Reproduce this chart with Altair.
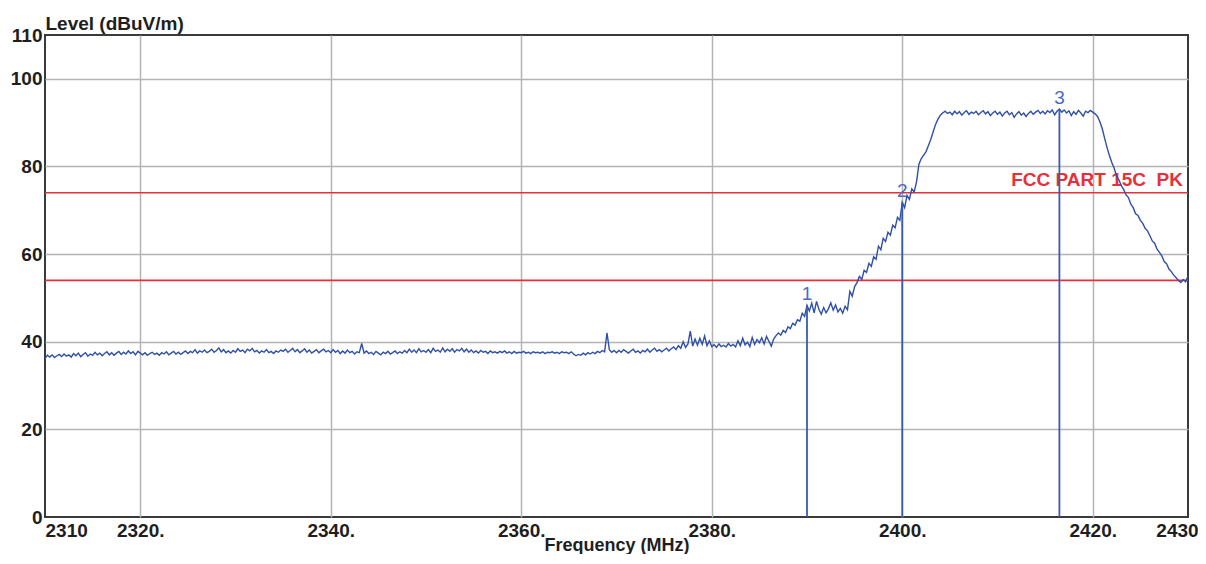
import altair as alt
import pandas as pd

# ---- sweep (0.25 MHz steps from 2310 MHz) ----
sweep_start = 2310.0
sweep_step = 0.25

level_2310_2340 = [
    36.2, 36.9, 36.5, 37.0, 36.4, 36.8, 37.1, 36.6, 37.2, 36.7,
    37.0, 36.5, 37.3, 36.8, 37.4, 36.6, 37.1, 37.5, 36.7, 37.2,
    36.9, 37.6, 37.0, 37.4, 36.8, 37.3, 37.7, 37.0, 37.5, 36.9,
    37.4, 37.8, 37.1, 37.6, 37.2, 37.9, 37.3, 37.7, 37.0, 37.8,
    37.4, 37.0, 37.5, 36.9, 37.3, 37.6, 37.1, 37.4, 36.9, 37.5,
    37.2, 37.7, 37.0, 37.4, 37.8, 37.2, 37.6, 37.1, 37.5, 37.9,
    37.3, 37.8, 37.5, 38.2, 37.4, 37.9, 37.6, 38.1, 37.5, 37.8,
    38.3, 37.6, 38.0, 38.6, 37.7, 38.2, 37.5, 37.9, 37.4, 38.0,
    37.6, 38.4, 37.8, 38.1, 37.5, 38.3, 37.9, 38.5, 37.7, 38.0,
    37.4, 37.9, 37.6, 38.2, 37.5, 37.8, 37.3, 37.9, 37.6, 38.1,
    37.8, 38.3, 37.6, 38.0, 38.5, 37.7, 38.2, 37.5, 37.9, 38.4,
    37.6, 38.1, 37.4, 37.8, 38.2, 37.5, 37.9, 38.3, 37.7, 38.0,
]
level_2340_2370 = [
    37.5, 38.2, 37.6, 38.0, 37.3, 37.9, 37.4, 38.1, 37.5, 37.8,
    37.2, 37.7, 37.5, 39.6, 37.4, 37.9, 37.3, 37.6, 37.1, 37.8,
    37.4, 37.0, 37.6, 37.3, 37.8, 37.2, 37.5, 37.9, 37.3, 37.7,
    37.4, 38.0, 37.5, 38.3, 37.6, 38.1, 37.5, 38.4, 37.7, 38.0,
    37.6, 38.2, 37.5, 38.5, 37.8, 38.1, 37.6, 38.6, 37.7, 38.3,
    37.8, 38.4, 37.6, 38.2, 37.9, 38.5, 37.7, 38.3, 37.6, 38.1,
    37.5, 37.9, 37.4, 38.0, 37.6, 37.8, 37.3, 37.9, 37.5, 37.7,
    37.4, 37.8, 37.5, 37.9, 37.4, 37.7, 37.3, 37.8, 37.4, 37.6,
    37.5, 37.8, 37.4, 37.6, 37.3, 37.7, 37.5, 37.6, 37.4, 37.7,
    37.3, 37.6, 37.5, 37.7, 37.4, 37.6, 37.3, 37.7, 37.5, 37.6,
    37.3, 37.7, 37.2, 36.8, 37.1, 36.9, 37.4, 37.0, 37.5, 37.2,
    37.6, 37.3, 37.8, 37.5, 38.0, 37.7, 42.0, 38.2, 37.6, 38.0,
]
level_2370_2390 = [
    37.5, 38.0, 37.6, 38.2, 37.8, 37.4, 37.9, 38.3, 37.6, 37.9,
    37.4, 38.0, 37.7, 38.3, 37.6, 38.1, 38.5, 37.8, 38.2, 37.7,
    38.1, 38.5, 37.9, 38.4, 38.8, 38.2, 39.1, 38.5, 40.0, 38.7,
    39.5, 42.4, 39.0, 40.6, 39.2, 40.8, 39.4, 41.3, 39.1, 40.2,
    38.9, 39.3, 38.7, 39.5, 38.9, 39.2, 38.8, 39.6, 39.0, 39.4,
    38.8, 40.2, 39.1, 40.8, 39.3, 39.9, 38.9, 41.0, 39.4, 40.5,
    39.8, 40.9, 39.5, 41.2, 40.1, 39.0, 40.6, 41.4, 42.0, 41.5,
    42.6, 42.1, 43.4, 43.0, 44.2, 43.8, 45.0, 44.7, 46.5, 45.8,
]
level_2390_2410 = [
    48.3, 47.0, 48.8, 46.6, 49.2, 47.4, 46.3, 47.8, 46.6, 47.5,
    48.9, 47.2, 48.4, 46.8, 47.6, 46.5, 48.1, 47.3, 51.5, 50.4,
    52.6, 53.5, 54.9, 54.2, 56.3, 55.8, 57.9, 57.2, 59.4, 58.8,
    61.8, 61.0, 63.6, 62.9, 65.0, 64.3, 66.6, 66.0, 68.4, 67.7,
    71.8, 70.6, 73.4, 72.5, 74.9, 74.2, 76.5, 80.5, 81.8, 82.6,
    83.4, 84.8, 86.2, 87.9, 89.6, 90.8, 91.7, 92.2, 92.6, 92.1,
    92.4, 91.8, 92.6, 92.0, 92.5, 91.7, 92.3, 92.7, 91.9, 92.4,
    92.1, 92.6, 91.8, 92.3, 92.7, 92.0, 92.5, 91.6, 92.2, 92.6,
]
level_2410_2430 = [
    91.9, 92.4, 91.5, 92.2, 92.6, 91.8, 92.3, 91.2, 92.0, 92.5,
    91.7, 92.2, 91.4, 92.1, 92.6, 91.9, 92.4, 92.8, 92.1, 92.6,
    92.0, 92.7, 92.3, 92.9, 91.8, 92.6, 93.1, 92.4, 92.9, 92.2,
    92.7, 91.6, 92.5, 91.9, 92.8, 92.2, 91.5, 92.6, 92.3, 92.8,
    92.4, 92.0, 91.4, 90.2, 88.6, 86.4, 84.3, 82.5, 80.9, 79.6,
    77.8, 76.9, 75.6, 74.7, 73.5, 72.9, 71.4, 70.6, 69.2, 68.8,
    67.7, 67.0, 65.9, 65.3, 64.2, 63.0, 62.5, 61.1, 60.4, 59.6,
    58.3, 57.8, 56.6, 56.0, 55.2, 54.6, 54.0, 53.5, 54.2, 53.7,
    55.0,
]

levels = (level_2310_2340 + level_2340_2370 + level_2370_2390
          + level_2390_2410 + level_2410_2430)
freqs = [sweep_start + sweep_step * i for i in range(len(levels))]

limit_levels = [74, 54]
limit_label = ["FCC PART 15C\u00a0 PK"]
limit_label_freq = [2430]
limit_label_level = [74]

marker_freqs = [2390, 2400, 2416.5]
marker_levels = [48.3, 71.8, 93.1]
marker_names = ["1", "2", "3"]

x_ticks = [2310, 2320, 2340, 2360, 2380, 2400, 2420, 2430]
y_ticks = [0, 20, 40, 60, 80, 100, 110]

trace_df = pd.DataFrame({"freq": freqs, "level": levels})
limit_df = pd.DataFrame({"level": limit_levels})
limit_text_df = pd.DataFrame({"freq": limit_label_freq, "level": limit_label_level, "label": limit_label})
marker_df = pd.DataFrame({"freq": marker_freqs, "level": marker_levels, "name": marker_names})

FONT = "Liberation Sans"
TXT = "#1e1e1e"

x_axis = alt.Axis(
    values=x_ticks, format="d", title="Frequency (MHz)",
    labelExpr="datum.value == 2310 || datum.value == 2430 ? datum.label : datum.label + '.'",
    labelAlign=alt.ExprRef(expr="datum.value == 2310 ? 'left' : 'center'"),
    labelOffset=alt.ExprRef(expr="datum.value == 2430 ? -11 : 0"),
    labelBaseline="top", labelPadding=4,
    labelFont=FONT, labelFontSize=19, labelFontWeight="bold", labelColor=TXT,
    ticks=False, domain=False,
    grid=True, gridColor="#b4b4b4", gridWidth=1.5,
    gridOpacity=alt.ExprRef(expr="datum.value == 2310 || datum.value == 2430 ? 0 : 1"),
    titleFont=FONT, titleFontSize=18, titleFontWeight="bold", titleColor=TXT,
    titleY=33, titleBaseline="alphabetic", titleAnchor="middle",
    labelOverlap=False,
)
y_axis = alt.Axis(
    values=y_ticks, title="Level (dBuV/m)",
    labelFont=FONT, labelFontSize=19, labelFontWeight="bold", labelColor=TXT,
    labelPadding=3, ticks=False, domain=False,
    grid=True, gridColor="#b4b4b4", gridWidth=1.5,
    gridOpacity=alt.ExprRef(expr="datum.value == 0 || datum.value == 110 ? 0 : 1"),
    titleFont=FONT, titleFontSize=19, titleFontWeight="bold", titleColor=TXT,
    titleAngle=0, titleX=0, titleY=-6, titleAlign="left", titleBaseline="alphabetic",
    labelOverlap=False,
)

x_scale = alt.Scale(domain=[2310, 2430], nice=False, zero=False)
y_scale = alt.Scale(domain=[0, 110], nice=False, zero=True)

X = alt.X("freq:Q", scale=x_scale, axis=x_axis)
Y = alt.Y("level:Q", scale=y_scale, axis=y_axis)

limits = alt.Chart(limit_df).mark_rule(color="#e8303a", strokeWidth=1.6).encode(y=Y)

limit_text = alt.Chart(limit_text_df).mark_text(
    align="right", baseline="alphabetic", dx=-5, dy=-7,
    font=FONT, fontSize=19, fontWeight="bold", color="#e8303a",
).encode(x=X, y=Y, text="label:N")

trace = alt.Chart(trace_df).mark_line(color="#3050a8", strokeWidth=1.4).encode(x=X, y=Y)

marker_lines = alt.Chart(marker_df).mark_rule(color="#3a5ab0", strokeWidth=1.8).encode(
    x=X, y=Y, y2=alt.datum(0)
)
marker_text = alt.Chart(marker_df).mark_text(
    align="center", baseline="middle", dy=-11,
    font=FONT, fontSize=19, color="#4a6cc0",
).encode(x=X, y=Y, text="name:N")

chart = alt.layer(limits, limit_text, trace, marker_lines, marker_text).properties(
    width=1143, height=482,
    padding={"left": 37, "top": 27, "right": 10, "bottom": 37},
    autosize=alt.AutoSizeParams(type="none"),
    background="white",
).configure_view(stroke="#3a3a3a", strokeWidth=2)

chart.save("out.html", embed_options={"renderer": "svg", "actions": False})
